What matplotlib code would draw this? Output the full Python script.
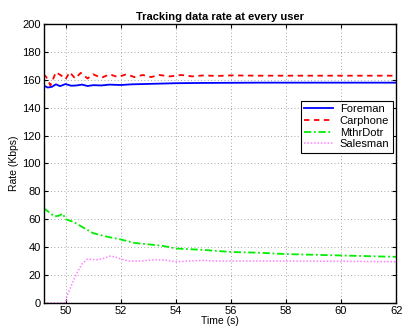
import numpy as np
import matplotlib.pyplot as plt

plt.rcParams['font.family'] = ['Liberation Sans', 'DejaVu Sans']

# ------------------------------
# DATA
# ------------------------------

foreman_t = [49.2, 49.35, 49.5, 49.65, 49.8, 50.0, 50.2, 50.4, 50.6, 50.8, 51.0, 51.3,
             51.6, 52.0, 52.4, 52.8, 53.2, 53.6, 54.0, 55.0, 56.0, 57.0, 58.0, 59.0,
             60.0, 61.0, 62.0]
foreman_r = [156.0, 154.5, 155.0, 156.8, 155.5, 157.0, 155.8, 156.0, 156.6, 155.6, 156.2,
             156.0, 156.6, 156.3, 156.8, 157.0, 157.2, 157.4, 157.6, 157.8, 157.9, 158.0,
             158.0, 158.0, 158.0, 158.0, 158.0]

carphone_t = [49.2, 49.3, 49.45, 49.65, 49.85, 50.0, 50.15, 50.35, 50.55, 50.8, 51.0,
              51.3, 51.6, 51.9, 52.2, 52.5, 52.8, 53.1, 53.4, 53.8, 54.2, 54.6, 55.0,
              55.5, 56.0, 57.0, 58.0, 59.0, 60.0, 61.0, 62.0]
carphone_r = [164.0, 162.0, 156.0, 165.5, 163.0, 160.5, 165.5, 161.0, 165.0, 161.0, 164.0,
              161.5, 164.0, 162.0, 164.0, 162.0, 163.5, 162.0, 163.5, 162.5, 163.5, 162.5,
              163.2, 162.8, 163.2, 163.0, 163.0, 163.0, 163.0, 163.0, 163.0]

mthr_t = [49.2, 49.4, 49.6, 49.75, 49.9, 50.0, 50.3, 50.6, 51.0, 51.5, 52.0, 52.5, 53.0,
          53.5, 54.0, 55.0, 56.0, 57.0, 58.0, 59.0, 60.0, 61.0, 62.0]
mthr_r = [68.0, 65.0, 62.0, 62.5, 64.0, 60.0, 58.0, 54.5, 50.0, 47.5, 45.5, 43.0, 42.0,
          41.0, 39.0, 38.0, 36.5, 36.0, 35.0, 34.5, 34.0, 33.5, 33.0]

sales_t = [49.2, 49.6, 50.0, 50.05, 50.2, 50.4, 50.6, 50.8, 51.0, 51.2, 51.4, 51.6, 51.8,
           52.0, 52.3, 52.7, 53.0, 53.3, 53.7, 54.0, 54.5, 55.0, 55.5, 56.0, 58.0, 60.0, 62.0]
sales_r = [0.0, 0.0, 0.0, 5.0, 12.0, 21.0, 28.0, 31.5, 31.0, 31.0, 32.0, 33.5, 33.0, 31.5,
           30.0, 30.0, 30.5, 31.0, 30.5, 29.5, 30.0, 30.5, 30.0, 30.0, 30.0, 29.8, 29.5]

labels = ["Foreman", "Carphone", "MthrDotr", "Salesman"]

# ------------------------------
# PLOT
# ------------------------------

fig = plt.figure(figsize=(4.03, 3.26), dpi=100)
ax = fig.add_axes([0.108, 0.071, 0.875, 0.855])

ax.plot(foreman_t, foreman_r, color='#0000ff', linestyle='-', lw=1.3, label=labels[0])
ax.plot(carphone_t, carphone_r, color='#ff0000', linestyle=(0, (3, 2.5)), lw=1.3, label=labels[1])
ax.plot(mthr_t, mthr_r, color='#00ee00', linestyle=(0, (4, 1.5, 1, 1.5)), lw=1.3, label=labels[2])
ax.plot(sales_t, sales_r, color='#ff80ff', linestyle=(0, (1, 1.2)), lw=1.1, label=labels[3])

ax.set_xlim(49.2, 62)
ax.set_ylim(0, 200)
ax.set_xticks(np.arange(50, 63, 2))
ax.set_yticks(np.arange(0, 201, 20))
ax.tick_params(direction='in', top=True, right=True, labelsize=8, length=3, pad=2)
ax.grid(True, linestyle=(0, (1, 3)), color='#888888', lw=0.6)
for s in ax.spines.values():
    s.set_linewidth(1.0)

ax.set_title("Tracking data rate at every user", fontsize=8, fontweight='bold', pad=3)
ax.set_xlabel("Time (s)", fontsize=7.5, labelpad=0)
ax.set_ylabel("Rate (Kbps)", fontsize=7.5, labelpad=2)

leg = ax.legend(loc='upper right', bbox_to_anchor=(0.99, 0.724), fontsize=8,
                fancybox=False, framealpha=1, edgecolor='black', borderpad=0.3,
                labelspacing=0.15, handlelength=2.6, handletextpad=0.6, borderaxespad=0)
leg.get_frame().set_linewidth(0.8)

plt.savefig("out.png", dpi=100)
